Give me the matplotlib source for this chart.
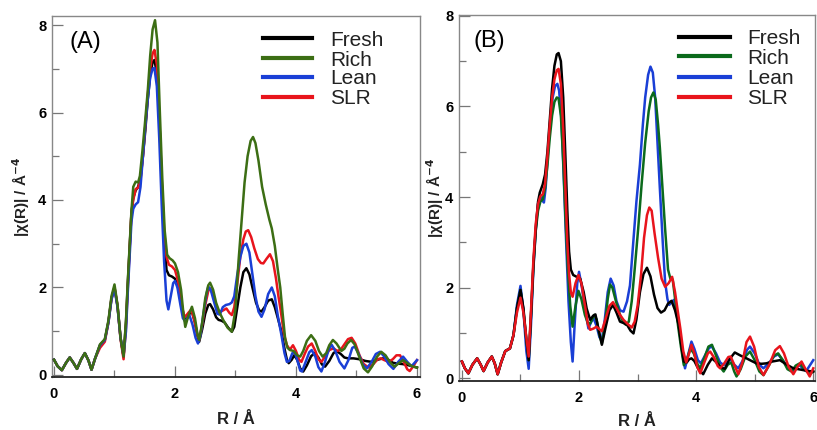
import matplotlib
matplotlib.use("Agg")
import matplotlib.pyplot as plt
from matplotlib.lines import Line2D
from matplotlib.ticker import MultipleLocator

plt.rcParams['font.family'] = ['Liberation Sans', 'DejaVu Sans']

# ---------------- Panel A data ----------------
a_fresh_r = [0.00,0.06,0.13,0.20,0.26,0.32,0.38,0.45,0.51,0.57,0.62,0.68,0.76,0.84,0.90,0.95,1.00,1.05,1.10,1.15,1.19,1.22,1.25,
             1.28,1.31,1.35,1.39,1.43,1.47,1.51,1.55,1.59,1.63,1.66,1.70,1.74,1.78,1.82,1.86,1.90,1.95,2.00,2.05,2.11,2.15,2.19,2.24,2.28,2.33,2.37,2.40,2.45,2.50,2.55,2.58,2.63,2.68,2.72,2.77,2.82,2.88,2.94,2.98,3.03,3.08,3.13,3.18,3.23,3.28,3.34,3.39,3.43,3.48,3.54,3.60,3.65,3.70,3.76,3.81,3.85,3.88,3.93,3.97,4.02,4.07,4.12,4.18,4.25,4.31,4.37,4.43,4.48,4.55,4.62,4.67,4.74,4.80,4.86,4.95,5.05,5.15,5.25,5.35,5.44,5.52,5.60,5.68,5.76,5.84,5.92,6.00]
a_fresh_v = [0.35,0.20,0.11,0.28,0.40,0.28,0.14,0.36,0.50,0.33,0.12,0.38,0.68,0.80,1.22,1.75,2.00,1.58,0.85,0.42,1.20,2.10,2.90,
             3.70,4.05,4.22,4.30,4.50,5.00,5.60,6.30,6.85,7.15,7.20,6.90,5.90,4.40,3.20,2.40,2.28,2.25,2.20,2.00,1.60,1.32,1.28,1.40,1.45,1.20,0.90,0.76,1.05,1.40,1.60,1.62,1.50,1.32,1.26,1.24,1.20,1.08,0.99,1.10,1.55,2.00,2.35,2.44,2.30,2.00,1.65,1.48,1.45,1.55,1.70,1.73,1.55,1.30,0.99,0.60,0.35,0.27,0.35,0.45,0.35,0.15,0.08,0.22,0.43,0.50,0.40,0.24,0.19,0.32,0.50,0.55,0.48,0.40,0.38,0.38,0.36,0.32,0.30,0.35,0.38,0.35,0.28,0.26,0.25,0.23,0.20,0.17]

a_rich_r = [0.00,0.06,0.13,0.20,0.26,0.32,0.38,0.45,0.51,0.57,0.62,0.68,0.76,0.84,0.90,0.95,1.00,1.05,1.10,1.15,1.19,1.22,1.25,
            1.28,1.31,1.35,1.39,1.42,1.46,1.50,1.55,1.59,1.63,1.67,1.71,1.75,1.79,1.83,1.87,1.91,1.96,2.00,2.05,2.10,2.14,2.17,2.22,2.28,2.33,2.37,2.40,2.45,2.50,2.55,2.58,2.63,2.68,2.74,2.80,2.87,2.94,3.00,3.05,3.10,3.15,3.20,3.25,3.29,3.33,3.38,3.44,3.50,3.56,3.60,3.65,3.70,3.74,3.78,3.82,3.86,3.90,3.96,4.02,4.07,4.12,4.18,4.25,4.32,4.38,4.44,4.50,4.55,4.61,4.67,4.75,4.80,4.85,4.91,4.97,5.05,5.12,5.19,5.26,5.34,5.41,5.48,5.56,5.63,5.70,5.77,5.85,5.92,6.00]
a_rich_v = [0.35,0.20,0.11,0.28,0.40,0.28,0.14,0.36,0.50,0.33,0.12,0.38,0.70,0.82,1.25,1.80,2.07,1.60,0.85,0.42,1.25,2.15,2.95,
            3.75,4.30,4.42,4.40,4.55,5.10,5.70,6.50,7.30,7.90,8.11,7.60,6.00,4.50,3.30,2.75,2.67,2.62,2.55,2.35,1.95,1.40,1.10,1.35,1.56,1.30,0.95,0.80,1.20,1.75,2.05,2.11,1.95,1.65,1.42,1.25,1.08,0.99,1.50,2.60,3.50,4.40,5.00,5.35,5.44,5.30,4.90,4.30,3.90,3.55,3.35,2.95,2.40,2.00,1.40,0.84,0.62,0.57,0.55,0.45,0.42,0.55,0.78,0.91,0.78,0.55,0.42,0.50,0.68,0.80,0.72,0.55,0.60,0.72,0.80,0.70,0.40,0.15,0.06,0.20,0.42,0.53,0.45,0.28,0.19,0.27,0.34,0.26,0.20,0.17]

a_lean_r = [0.00,0.06,0.13,0.20,0.26,0.32,0.38,0.45,0.51,0.57,0.62,0.68,0.76,0.84,0.90,0.95,1.00,1.05,1.10,1.15,1.19,1.22,1.25,
            1.28,1.31,1.35,1.39,1.43,1.47,1.51,1.55,1.59,1.63,1.66,1.70,1.74,1.78,1.82,1.86,1.89,1.93,1.97,2.00,2.04,2.09,2.13,2.17,2.21,2.24,2.29,2.34,2.38,2.42,2.47,2.52,2.55,2.59,2.64,2.70,2.74,2.79,2.84,2.90,2.94,2.98,3.03,3.08,3.13,3.18,3.23,3.28,3.33,3.38,3.43,3.48,3.54,3.60,3.65,3.70,3.76,3.81,3.85,3.89,3.94,3.98,4.03,4.07,4.10,4.16,4.22,4.26,4.32,4.37,4.42,4.48,4.54,4.59,4.65,4.72,4.80,4.87,4.93,4.97,5.03,5.10,5.17,5.25,5.32,5.39,5.46,5.53,5.61,5.69,5.77,5.84,5.91,6.00]
a_lean_v = [0.35,0.20,0.11,0.28,0.40,0.28,0.14,0.36,0.50,0.33,0.12,0.38,0.68,0.80,1.20,1.72,1.97,1.55,0.85,0.45,1.00,1.90,2.70,
            3.50,3.80,3.90,3.95,4.30,5.00,5.70,6.30,6.80,7.00,7.02,6.60,5.40,3.90,2.60,1.70,1.50,1.80,2.10,2.15,2.00,1.60,1.30,1.22,1.32,1.36,1.15,0.85,0.72,0.90,1.40,1.85,2.02,1.95,1.70,1.40,1.38,1.55,1.60,1.62,1.66,1.80,2.30,2.70,2.95,3.00,2.80,2.30,1.80,1.45,1.33,1.50,1.85,2.00,1.80,1.35,0.91,0.50,0.30,0.32,0.50,0.52,0.30,0.10,0.08,0.30,0.52,0.57,0.42,0.18,0.08,0.30,0.58,0.69,0.55,0.30,0.15,0.35,0.62,0.65,0.50,0.25,0.15,0.30,0.48,0.53,0.42,0.25,0.14,0.30,0.42,0.30,0.20,0.34]

a_slr_r = [0.00,0.06,0.13,0.20,0.26,0.32,0.38,0.45,0.51,0.57,0.62,0.68,0.76,0.84,0.90,0.95,1.00,1.05,1.10,1.15,1.19,1.22,1.25,
           1.28,1.31,1.35,1.39,1.43,1.47,1.51,1.55,1.59,1.63,1.66,1.70,1.74,1.78,1.82,1.86,1.90,1.95,2.00,2.05,2.10,2.14,2.17,2.22,2.27,2.32,2.37,2.40,2.45,2.50,2.55,2.58,2.63,2.68,2.73,2.80,2.85,2.90,2.94,2.98,3.03,3.08,3.13,3.17,3.21,3.26,3.31,3.37,3.42,3.46,3.51,3.57,3.62,3.67,3.71,3.75,3.80,3.85,3.90,3.95,4.00,4.05,4.09,4.15,4.20,4.26,4.32,4.37,4.42,4.48,4.55,4.62,4.68,4.74,4.80,4.86,4.92,4.98,5.05,5.12,5.20,5.28,5.35,5.40,5.46,5.53,5.60,5.66,5.72,5.78,5.84,5.88,5.94,6.00]
a_slr_v = [0.35,0.20,0.11,0.28,0.40,0.28,0.14,0.36,0.50,0.33,0.12,0.38,0.62,0.76,1.20,1.75,2.00,1.58,0.82,0.36,1.10,2.00,2.85,
           3.70,4.00,4.25,4.28,4.45,5.00,5.70,6.40,7.00,7.35,7.43,7.10,5.90,4.50,3.30,2.70,2.52,2.48,2.40,2.15,1.70,1.40,1.33,1.42,1.50,1.25,0.92,0.80,1.15,1.60,1.92,1.98,1.85,1.55,1.43,1.48,1.52,1.42,1.37,1.55,2.10,2.70,3.10,3.28,3.31,3.15,2.90,2.65,2.56,2.55,2.65,2.76,2.60,2.20,1.80,1.45,0.95,0.68,0.58,0.68,0.55,0.35,0.30,0.50,0.65,0.72,0.55,0.36,0.30,0.42,0.57,0.61,0.55,0.58,0.70,0.82,0.85,0.72,0.45,0.25,0.17,0.25,0.36,0.38,0.34,0.30,0.36,0.45,0.45,0.30,0.13,0.09,0.20,0.34]

# ---------------- Panel B data ----------------
b_fresh_r = [0.00,0.05,0.11,0.18,0.26,0.32,0.37,0.44,0.51,0.56,0.61,0.67,0.74,0.82,0.88,0.94,1.00,1.05,1.10,1.14,1.18,1.22,1.26,
             1.30,1.33,1.38,1.42,1.46,1.50,1.54,1.58,1.62,1.65,1.69,1.73,1.77,1.80,1.83,1.86,1.90,1.96,2.02,2.08,2.13,2.19,2.24,2.28,2.33,2.39,2.45,2.52,2.58,2.64,2.70,2.76,2.82,2.88,2.93,2.98,3.04,3.10,3.16,3.22,3.28,3.34,3.40,3.46,3.52,3.58,3.64,3.70,3.75,3.79,3.84,3.88,3.92,3.97,4.04,4.12,4.20,4.27,4.34,4.42,4.49,4.57,4.66,4.76,4.86,4.95,5.03,5.12,5.20,5.30,5.43,5.55,5.66,5.75,5.83,5.92,6.00]
b_fresh_v = [0.37,0.22,0.11,0.30,0.44,0.30,0.16,0.35,0.48,0.33,0.09,0.35,0.60,0.66,0.95,1.55,1.95,1.55,0.85,0.40,1.40,2.50,3.30,
             3.90,4.10,4.28,4.50,5.00,5.70,6.40,6.90,7.15,7.18,7.00,6.20,4.80,3.70,2.80,2.40,2.28,2.24,2.20,1.90,1.54,1.29,1.38,1.41,1.10,0.74,1.10,1.50,1.62,1.45,1.25,1.22,1.18,1.05,0.99,1.30,1.90,2.30,2.44,2.25,1.85,1.55,1.45,1.50,1.65,1.71,1.50,1.18,0.70,0.37,0.35,0.42,0.44,0.38,0.20,0.09,0.30,0.44,0.36,0.24,0.21,0.42,0.57,0.50,0.44,0.38,0.33,0.32,0.33,0.37,0.40,0.30,0.22,0.20,0.18,0.16,0.15]

b_rich_r = [0.00,0.05,0.11,0.18,0.26,0.32,0.37,0.44,0.51,0.56,0.61,0.67,0.74,0.82,0.88,0.94,1.00,1.05,1.10,1.14,1.18,1.22,1.26,
            1.30,1.34,1.38,1.42,1.46,1.50,1.54,1.58,1.62,1.65,1.69,1.73,1.77,1.81,1.85,1.89,1.94,1.99,2.04,2.10,2.15,2.19,2.26,2.30,2.35,2.39,2.44,2.49,2.53,2.57,2.63,2.70,2.75,2.80,2.85,2.90,2.95,3.01,3.07,3.13,3.19,3.23,3.27,3.31,3.35,3.38,3.43,3.47,3.52,3.56,3.60,3.65,3.69,3.74,3.79,3.84,3.90,3.96,4.02,4.07,4.14,4.21,4.27,4.34,4.41,4.47,4.54,4.60,4.65,4.69,4.76,4.84,4.92,5.00,5.08,5.15,5.25,5.33,5.40,5.48,5.56,5.63,5.70,5.77,5.85,5.94,6.00]
b_rich_v = [0.37,0.22,0.11,0.30,0.44,0.30,0.16,0.35,0.48,0.33,0.09,0.35,0.60,0.66,0.95,1.55,1.95,1.50,0.85,0.40,1.40,2.45,3.25,
            3.70,3.90,3.95,4.20,4.70,5.30,5.80,6.10,6.20,6.18,5.80,4.80,3.50,2.40,1.60,1.14,1.60,1.93,1.75,1.40,1.22,1.21,1.40,1.30,0.95,0.77,1.15,1.75,2.07,2.00,1.70,1.40,1.25,1.18,1.25,1.70,2.40,3.30,4.30,5.20,5.90,6.20,6.31,6.15,5.60,5.10,4.10,3.30,2.40,2.20,2.18,1.65,1.17,0.70,0.29,0.40,0.66,0.55,0.32,0.22,0.45,0.70,0.74,0.50,0.25,0.15,0.30,0.35,0.15,0.04,0.20,0.48,0.59,0.40,0.15,0.07,0.30,0.50,0.55,0.40,0.20,0.15,0.28,0.33,0.20,0.09,0.15]

b_lean_r = [0.00,0.05,0.11,0.18,0.26,0.32,0.37,0.44,0.51,0.56,0.61,0.67,0.74,0.82,0.88,0.94,1.00,1.05,1.10,1.14,1.18,1.22,1.26,
            1.30,1.34,1.38,1.40,1.43,1.47,1.51,1.55,1.59,1.63,1.66,1.70,1.74,1.78,1.82,1.86,1.89,1.93,1.97,2.00,2.05,2.10,2.16,2.21,2.25,2.30,2.35,2.39,2.44,2.49,2.54,2.59,2.64,2.70,2.76,2.82,2.87,2.92,2.98,3.04,3.09,3.13,3.18,3.22,3.26,3.30,3.34,3.38,3.43,3.47,3.51,3.54,3.58,3.62,3.66,3.70,3.73,3.77,3.81,3.86,3.92,3.97,4.03,4.08,4.15,4.22,4.27,4.34,4.41,4.47,4.53,4.58,4.65,4.72,4.80,4.87,4.92,5.00,5.08,5.15,5.25,5.33,5.40,5.48,5.57,5.66,5.72,5.77,5.83,5.88,5.94,6.00]
b_lean_v = [0.37,0.22,0.11,0.30,0.44,0.30,0.16,0.35,0.48,0.33,0.09,0.35,0.60,0.66,0.95,1.62,2.04,1.50,0.60,0.21,1.20,2.40,3.25,
            3.85,4.00,3.92,3.88,4.20,5.00,5.70,6.20,6.45,6.50,6.35,5.70,4.40,3.00,1.70,0.80,0.37,1.30,2.10,2.35,2.00,1.54,1.10,1.25,1.32,1.15,0.90,0.85,1.30,1.90,2.20,2.05,1.70,1.50,1.47,1.70,2.05,2.90,3.90,4.72,5.60,6.20,6.70,6.88,6.75,6.20,5.20,4.20,3.00,2.13,1.75,1.62,1.68,1.73,1.50,1.20,0.95,0.50,0.22,0.50,0.81,0.65,0.40,0.33,0.50,0.67,0.70,0.55,0.35,0.29,0.38,0.44,0.30,0.22,0.40,0.63,0.70,0.55,0.30,0.22,0.35,0.48,0.53,0.40,0.22,0.15,0.25,0.29,0.20,0.16,0.28,0.40]

b_slr_r = [0.00,0.05,0.11,0.18,0.26,0.32,0.37,0.44,0.51,0.56,0.61,0.67,0.74,0.82,0.88,0.94,1.00,1.05,1.10,1.14,1.18,1.22,1.26,
           1.30,1.34,1.38,1.42,1.46,1.50,1.54,1.58,1.62,1.65,1.69,1.73,1.77,1.80,1.83,1.86,1.89,1.94,1.99,2.04,2.10,2.15,2.19,2.25,2.30,2.35,2.39,2.45,2.52,2.58,2.64,2.70,2.76,2.83,2.90,2.95,3.00,3.06,3.11,3.16,3.20,3.24,3.29,3.35,3.41,3.47,3.53,3.59,3.64,3.69,3.73,3.78,3.83,3.88,3.92,3.97,4.02,4.07,4.14,4.20,4.24,4.31,4.37,4.41,4.48,4.55,4.59,4.65,4.72,4.79,4.86,4.92,4.99,5.07,5.15,5.25,5.35,5.43,5.50,5.58,5.66,5.73,5.80,5.87,5.94,6.00]
b_slr_v = [0.37,0.22,0.11,0.30,0.44,0.30,0.16,0.35,0.48,0.33,0.09,0.35,0.60,0.66,0.95,1.45,1.78,1.45,0.90,0.48,1.50,2.60,3.40,
           3.85,4.02,4.06,4.30,4.90,5.60,6.20,6.60,6.80,6.83,6.50,5.50,4.10,3.00,2.30,1.90,1.80,2.10,2.28,2.10,1.62,1.20,1.07,1.10,1.14,1.08,1.04,1.30,1.60,1.68,1.55,1.40,1.29,1.20,1.12,1.25,1.60,2.30,3.10,3.60,3.77,3.70,3.20,2.66,2.20,2.02,2.10,2.24,1.90,1.45,1.10,0.60,0.35,0.55,0.74,0.55,0.25,0.11,0.35,0.55,0.59,0.45,0.27,0.22,0.33,0.47,0.48,0.30,0.09,0.35,0.80,0.92,0.70,0.25,0.07,0.30,0.62,0.71,0.55,0.25,0.09,0.25,0.37,0.20,0.04,0.22]

labels = ["Fresh", "Rich", "Lean", "SLR"]
colors_a = ["#000000", "#3c6e14", "#1a3fd6", "#e8141c"]
colors_b = ["#000000", "#0b6a1c", "#1a3fd6", "#e8141c"]

W, H = 817, 430
fig = plt.figure(figsize=(W / 100, H / 100), dpi=100)


def px_axes(left, top, right, bottom):
    return [left / W, 1 - bottom / H, (right - left) / W, (bottom - top) / H]


ax_a = fig.add_axes(px_axes(52, 16, 420, 377))
ax_b = fig.add_axes(px_axes(459, 15, 815, 381))

lw = 1.8
# Panel A: green drawn on top
for r, v, c, z in [(a_fresh_r, a_fresh_v, colors_a[0], 3), (a_slr_r, a_slr_v, colors_a[3], 4),
                   (a_lean_r, a_lean_v, colors_a[2], 5), (a_rich_r, a_rich_v, colors_a[1], 6)]:
    ax_a.plot(r, v, color=c, lw=lw, zorder=z, solid_joinstyle='round')
# Panel B
for r, v, c, z in [(b_lean_r, b_lean_v, colors_b[2], 3), (b_rich_r, b_rich_v, colors_b[1], 4),
                   (b_fresh_r, b_fresh_v, colors_b[0], 5), (b_slr_r, b_slr_v, colors_b[3], 6)]:
    ax_b.plot(r, v, color=c, lw=lw, zorder=z, solid_joinstyle='round')

ax_a.set_xlim(-0.033, 6.05)
ax_a.set_ylim(-0.046, 8.206)
ax_b.set_xlim(-0.05, 6.03)
ax_b.set_ylim(-0.06, 8.02)

for ax in (ax_a, ax_b):
    ax.xaxis.set_major_locator(MultipleLocator(2))
    ax.xaxis.set_minor_locator(MultipleLocator(1))
    ax.yaxis.set_major_locator(MultipleLocator(2))
    ax.yaxis.set_minor_locator(MultipleLocator(1))
    ax.tick_params(which='both', direction='in', color='#777777', width=0.9)
    ax.tick_params(which='major', length=8)
    ax.tick_params(which='minor', length=5)
    ax.tick_params(axis='x', which='major', pad=7)
    ax.tick_params(axis='y', which='major', pad=4)
    for lab in ax.get_xticklabels() + ax.get_yticklabels():
        lab.set_fontweight('bold')
        lab.set_fontsize(10.5)
    for s in ('left', 'top', 'right'):
        ax.spines[s].set_color('#888888')
        ax.spines[s].set_linewidth(1.0)
    ax.spines['bottom'].set_color('#222222')
    ax.spines['bottom'].set_linewidth(1.3)
    ax.set_xlabel("R / Å", fontsize=12, fontweight='bold', color='#222222')
    ax.set_ylabel("|χ(R)| / Å$^{\\mathbf{-4}}$", fontsize=11, fontweight='bold', color='#222222')

ax_a.xaxis.set_label_coords(0.5, -0.097)
ax_b.xaxis.set_label_coords(0.5, -0.090)
ax_a.yaxis.set_label_coords(-0.054, 0.5)
ax_b.yaxis.set_label_coords(-0.036, 0.5)

ax_a.text(0.26, 7.62, "(A)", fontsize=17, va='center', ha='left')
ax_b.text(0.20, 7.45, "(B)", fontsize=17, va='center', ha='left')


def legend(x0, x1, xt, ys, cols):
    for lab, c, y in zip(labels, cols, ys):
        fig.add_artist(Line2D([x0 / W, x1 / W], [1 - y / H, 1 - y / H], color=c, lw=3.0,
                              transform=fig.transFigure))
        fig.text(xt / W, 1 - (y + 2) / H, lab, fontsize=15, va='center', ha='left', color='#222222')


legend(263, 312, 330, [38, 58, 77, 97], colors_a)
legend(679, 730, 747, [37, 56, 77, 97], colors_b)

fig.savefig("out.png", dpi=100)
